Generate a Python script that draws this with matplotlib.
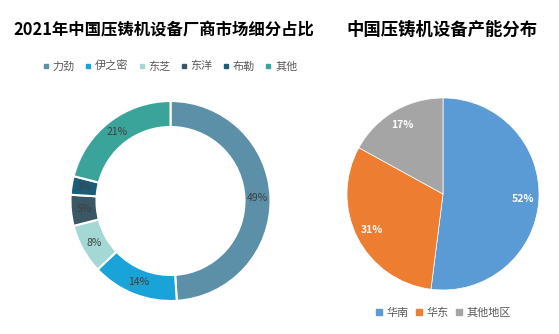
import matplotlib
matplotlib.use("Agg")
import matplotlib.pyplot as plt
from matplotlib.lines import Line2D

plt.rcParams['font.family'] = ['Noto Sans CJK SC', 'DejaVu Sans']

# left donut: vendor share
vendors = ['力劲', '伊之密', '东芝', '东洋', '布勒', '其他']
vendor_share = [49, 14, 8, 5, 3, 21]
vendor_colors = ['#5b90a8', '#1aa3d9', '#a4d8d4', '#3b5664', '#1a5d7a', '#3aa39a']

# right pie: capacity by region
regions = ['华南', '华东', '其他地区']
region_share = [52, 31, 17]
region_colors = ['#5b9bd5', '#ed7d31', '#a5a5a5']

W, H = 559, 334
fig = plt.figure(figsize=(W / 100, H / 100), dpi=100)
fig.patch.set_facecolor('white')


def px_axes(cx, cy, r):
    return fig.add_axes([(cx - r) / W, (H - cy - r) / H, 2 * r / W, 2 * r / H])


ax1 = px_axes(170.5, 201, 100)
wedges, texts, autotexts = ax1.pie(
    vendor_share, colors=vendor_colors, startangle=90, counterclock=False,
    radius=1, autopct='%d%%', pctdistance=0.87,
    wedgeprops=dict(width=0.26, edgecolor='white', linewidth=1.5),
    textprops=dict(fontsize=7.5, color='#404040'))
ax1.set_xlim(-1, 1)
ax1.set_ylim(-1, 1)
ax1.set_aspect('equal')

ax2 = px_axes(443, 194, 96)
w2, t2, a2 = ax2.pie(
    region_share, colors=region_colors, startangle=90, counterclock=False,
    radius=1, autopct='%d%%', pctdistance=0.83,
    wedgeprops=dict(edgecolor='white', linewidth=0.5),
    textprops=dict(fontsize=7.5, color='white', fontweight='bold'))
ax2.set_xlim(-1, 1)
ax2.set_ylim(-1, 1)
ax2.set_aspect('equal')

fig.text(164 / W, 1 - 30 / H, '2021年中国压铸机设备厂商市场细分占比',
         ha='center', va='center', fontsize=11.8, fontweight='bold', color='black')
fig.text(442 / W, 1 - 30 / H, '中国压铸机设备产能分布',
         ha='center', va='center', fontsize=12.5, fontweight='bold', color='black')

h1 = [Line2D([], [], marker='s', linestyle='', markersize=3, color=c) for c in vendor_colors]
fig.legend(h1, vendors, loc='center', bbox_to_anchor=(170 / W, 1 - 66 / H), ncol=6,
           frameon=False, fontsize=8, handlelength=0.6, handletextpad=0.3,
           columnspacing=0.9, labelcolor='#595959')

h2 = [Line2D([], [], marker='s', linestyle='', markersize=5, color=c) for c in region_colors]
fig.legend(h2, regions, loc='center', bbox_to_anchor=(443 / W, 1 - 313 / H), ncol=3,
           frameon=False, fontsize=8, handlelength=0.7, handletextpad=0.3,
           columnspacing=0.6, labelcolor='#595959')

fig.savefig('out.png', dpi=100, facecolor='white')
